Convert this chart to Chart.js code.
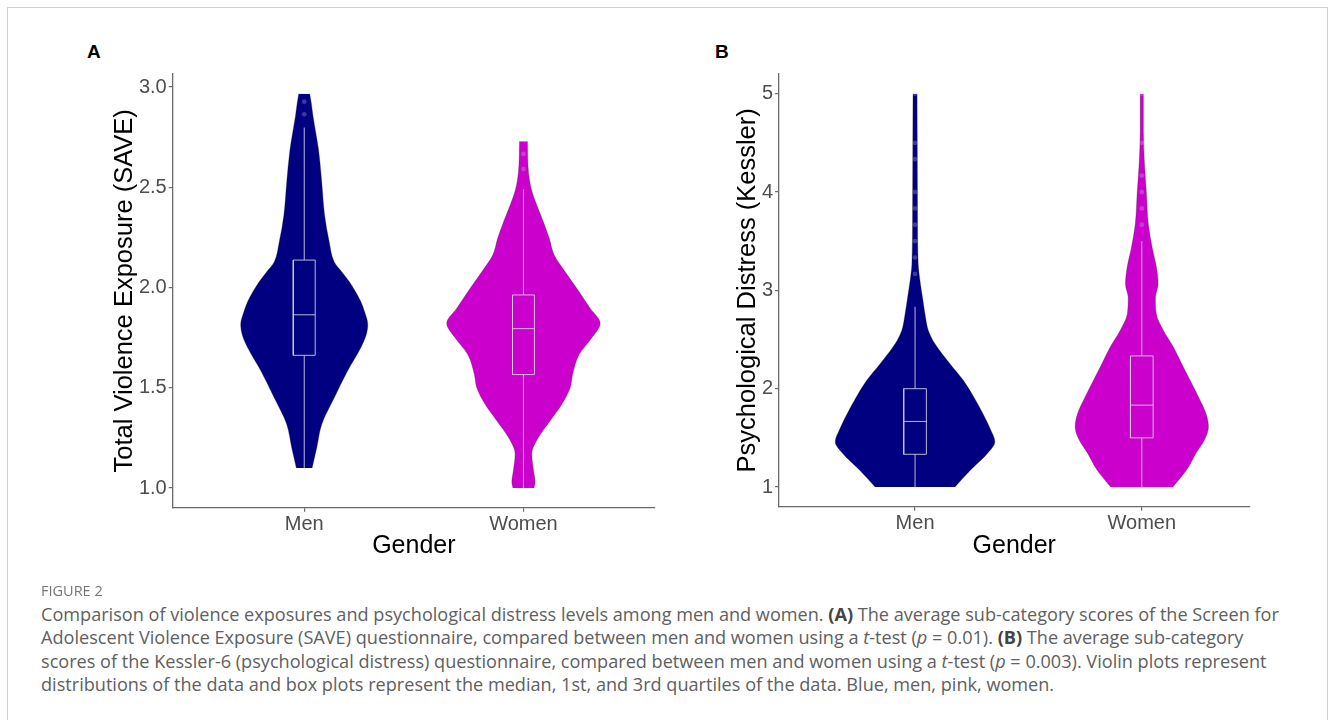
<!DOCTYPE html>
<html>
<head>
<meta charset="utf-8">
<script src="https://cdn.jsdelivr.net/npm/chart.js@4.4.1/dist/chart.umd.min.js"></script>
<style>
  body { margin: 0; background: #fff; width: 1330px; height: 720px; position: relative; overflow: hidden; font-family: 'Liberation Sans', Arial, sans-serif; }
  #frame { position: absolute; left: 7px; top: 7px; width: 1319px; height: 720px; border: 1px solid #cfcfcf; }
  canvas { position: absolute; }
  .tag { position: absolute; font-weight: bold; font-size: 19px; color: #000; }
  #fig { position: absolute; left: 41px; top: 581px; font-family: 'Open Sans', sans-serif; font-size: 14.5px; color: #777; }
  #cap { position: absolute; left: 41px; top: 603px; font-family: 'Open Sans', sans-serif; font-size: 16px; color: #606060; line-height: 23.4px; white-space: nowrap; }
  #cap b { color: #444; }
</style>
</head>
<body>
<div id="frame"></div>
<div class="tag" style="left:87px;top:41px">A</div>
<div class="tag" style="left:715px;top:41px">B</div>
<canvas id="chartA" width="610" height="540" style="left:60px;top:60px"></canvas>
<canvas id="chartB" width="580" height="540" style="left:690px;top:60px"></canvas>
<div id="fig">FIGURE 2</div>
<div id="cap">
  <div id="line1">Comparison of violence exposures and psychological distress levels among men and women. <b>(A)</b> The average sub-category scores of the Screen for</div>
  <div>Adolescent Violence Exposure (SAVE) questionnaire, compared between men and women using a <i>t</i>-test (<i>p</i> = 0.01). <b>(B)</b> The average sub-category</div>
  <div>scores of the Kessler-6 (psychological distress) questionnaire, compared between men and women using a <i>t</i>-test (<i>p</i> = 0.003). Violin plots represent</div>
  <div>distributions of the data and box plots represent the median, 1st, and 3rd quartiles of the data. Blue, men, pink, women.</div>
</div>

<script>
// ---------- DATOS ----------
const categories = ['Men', 'Women'];
const fillColors = ['#000080', '#cc00cc'];

// Panel A: SAVE (levels on the y axis, violin half-width in x units)
const menA_levels = [1.10, 1.20, 1.318, 1.45, 1.583, 1.70, 1.765, 1.815, 1.88, 1.93, 2.03, 2.079, 2.128, 2.228, 2.36, 2.525, 2.69, 2.856, 2.922, 2.967];
const menA_width = [0.036, 0.057, 0.08, 0.137, 0.197, 0.258, 0.283, 0.29, 0.275, 0.258, 0.205, 0.171, 0.137, 0.114, 0.093, 0.08, 0.065, 0.040, 0.032, 0.025];
const womenA_levels = [1.0, 1.03, 1.087, 1.17, 1.252, 1.335, 1.418, 1.50, 1.566, 1.666, 1.748, 1.822, 1.897, 1.996, 2.079, 2.162, 2.244, 2.327, 2.41, 2.49, 2.575, 2.729];
const womenA_width = [0.048, 0.053, 0.046, 0.038, 0.068, 0.121, 0.175, 0.213, 0.224, 0.254, 0.311, 0.35, 0.304, 0.243, 0.19, 0.14, 0.118, 0.091, 0.061, 0.036, 0.023, 0.018];
// box: [lower whisker, Q1, median, Q3, upper whisker]
const menA_box = [1.10, 1.662, 1.864, 2.137, 2.798];
const womenA_box = [1.0, 1.566, 1.795, 1.963, 2.49];
const menA_out = [2.864, 2.927];
const womenA_out = [2.591, 2.666];
const yTicksA = [1.0, 1.5, 2.0, 2.5, 3.0];
const yLabelsA = ['1.0', '1.5', '2.0', '2.5', '3.0'];

// Panel B: Kessler
const menB_levels = [1.0, 1.175, 1.344, 1.461, 1.58, 1.748, 1.916, 2.085, 2.254, 2.456, 2.59, 2.76, 2.927, 3.096, 3.265, 3.77, 4.444, 5.0];
const menB_width = [0.176, 0.246, 0.32, 0.352, 0.334, 0.299, 0.259, 0.213, 0.154, 0.088, 0.059, 0.044, 0.033, 0.022, 0.014, 0.011, 0.01, 0.009];
const womenB_levels = [1.0, 1.175, 1.344, 1.478, 1.613, 1.748, 1.916, 2.085, 2.254, 2.422, 2.59, 2.759, 2.927, 3.063, 3.23, 3.433, 3.669, 4.006, 4.276, 4.613, 5.0];
const womenB_width = [0.137, 0.198, 0.239, 0.276, 0.294, 0.283, 0.25, 0.213, 0.176, 0.14, 0.096, 0.064, 0.06, 0.072, 0.065, 0.046, 0.029, 0.02, 0.012, 0.007, 0.007];
const menB_box = [1.0, 1.333, 1.667, 2.0, 2.833];
const womenB_box = [1.0, 1.5, 1.833, 2.333, 3.5];
const menB_out = [3.167, 3.333, 3.5, 3.667, 3.833, 4.0, 4.333, 4.5, 5.0];
const womenB_out = [3.667, 3.833, 4.0, 4.167, 4.5, 5.0];
const yTicksB = [1, 2, 3, 4, 5];
const yLabelsB = ['1', '2', '3', '4', '5'];

// ---------- ESTILO ----------
const BOX_HW = 0.05;
const BOX_COLOR = 'rgba(205,205,215,0.9)';
const AXIS_COLOR = '#6a6a6a';
const TICK_COLOR = '#4d4d4d';
Chart.defaults.font.family = "'Liberation Sans', Arial, sans-serif";

function violin(center, levels, widths, color) {
  const style = { pointRadius: 0, borderColor: 'rgba(40,40,40,0.5)', borderWidth: 0.6, cubicInterpolationMode: 'monotone', order: 2 };
  return [
    { ...style, data: levels.map((y, i) => ({ x: center - widths[i], y })), fill: false },
    { ...style, data: levels.map((y, i) => ({ x: center + widths[i], y })), fill: '-1', backgroundColor: color }
  ];
}

function box(center, stats) {
  const [lo, q1, med, q3, hi] = stats;
  const st = { pointRadius: 0, borderColor: BOX_COLOR, borderWidth: 1, fill: false, order: 1 };
  const l = center - BOX_HW, r = center + BOX_HW;
  return [
    { ...st, data: [{ x: l, y: q1 }, { x: r, y: q1 }, { x: r, y: q3 }, { x: l, y: q3 }, { x: l, y: q1 }] },
    { ...st, data: [{ x: l, y: med }, { x: r, y: med }] },
    { ...st, data: [{ x: center, y: lo }, { x: center, y: q1 }] },
    { ...st, data: [{ x: center, y: q3 }, { x: center, y: hi }] }
  ];
}

function outliers(center, values) {
  return {
    data: values.map(y => ({ x: center, y })), showLine: false, order: 0,
    pointRadius: 2.4, pointBorderWidth: 0, pointBackgroundColor: 'rgba(210,210,230,0.28)'
  };
}

function makeChart(id, p) {
  let datasets = [];
  p.groups.forEach((g, i) => {
    const c = i + 1;
    datasets = datasets.concat(violin(c, g.levels, g.width, fillColors[i]));
    datasets = datasets.concat(box(c, g.box));
    datasets.push(outliers(c, g.out));
  });

  new Chart(document.getElementById(id).getContext('2d'), {
    type: 'line',
    data: { datasets },
    options: {
      indexAxis: 'y',
      responsive: false,
      animation: false,
      events: [],
      plugins: { legend: { display: false }, tooltip: { enabled: false } },
      layout: { padding: { top: p.padTop, right: p.padRight, left: 0, bottom: 0 } },
      scales: {
        x: {
          type: 'linear', min: 0.4, max: p.xMax,
          afterBuildTicks: s => { s.ticks = categories.map((c, i) => ({ value: i + 1 })); },
          afterFit: s => { s.height = p.xAxisH; },
          ticks: { callback: (v, i) => categories[i], color: TICK_COLOR, font: { size: 20 }, padding: 1, maxRotation: 0, autoSkip: false },
          grid: { display: true, drawOnChartArea: false, drawTicks: true, tickLength: 4, color: AXIS_COLOR, lineWidth: 1.2 },
          border: { display: true, color: AXIS_COLOR, width: 1.3 },
          title: { display: true, text: 'Gender', color: '#000', font: { size: 25 }, padding: { bottom: p.xTitlePad } }
        },
        y: {
          type: 'linear', min: p.yMin, max: p.yMax,
          afterBuildTicks: s => { s.ticks = p.yTicks.map(v => ({ value: v })); },
          afterFit: s => { s.width = p.yAxisW; },
          ticks: { callback: (v, i) => p.yLabels[i], color: TICK_COLOR, font: { size: 20 }, padding: 2 },
          grid: { display: true, drawOnChartArea: false, drawTicks: true, tickLength: 4, color: AXIS_COLOR, lineWidth: 1.2 },
          border: { display: true, color: AXIS_COLOR, width: 1.3 },
          title: { display: true, text: p.yTitle, color: '#000', font: { size: 25.5 }, padding: { top: p.yTitlePad } }
        }
      }
    }
  });
}

makeChart('chartA', {
  groups: [
    { levels: menA_levels, width: menA_width, box: menA_box, out: menA_out },
    { levels: womenA_levels, width: womenA_width, box: womenA_box, out: womenA_out }
  ],
  yMin: 0.902, yMax: 3.065, yTicks: yTicksA, yLabels: yLabelsA,
  yTitle: 'Total Violence Exposure (SAVE)',
  xMax: 2.6, padTop: 12.7, padRight: 15, yAxisW: 112.7, xAxisH: 92.3, yTitlePad: 49.7, xTitlePad: 39
});

makeChart('chartB', {
  groups: [
    { levels: menB_levels, width: menB_width, box: menB_box, out: menB_out },
    { levels: womenB_levels, width: womenB_width, box: womenB_box, out: womenB_out }
  ],
  yMin: 0.8, yMax: 5.2, yTicks: yTicksB, yLabels: yLabelsB,
  yTitle: 'Psychological Distress (Kessler)',
  xMax: 2.475, padTop: 11.7, padRight: 20.5, yAxisW: 89, xAxisH: 93.3, yTitlePad: 42.7, xTitlePad: 39
});

// ajustar el pie de figura al ancho de la referencia
const line1 = document.getElementById('line1');
const w = line1.getBoundingClientRect().width;
document.getElementById('cap').style.fontSize = (16 * 1238 / w).toFixed(2) + 'px';
</script>
</body>
</html>
